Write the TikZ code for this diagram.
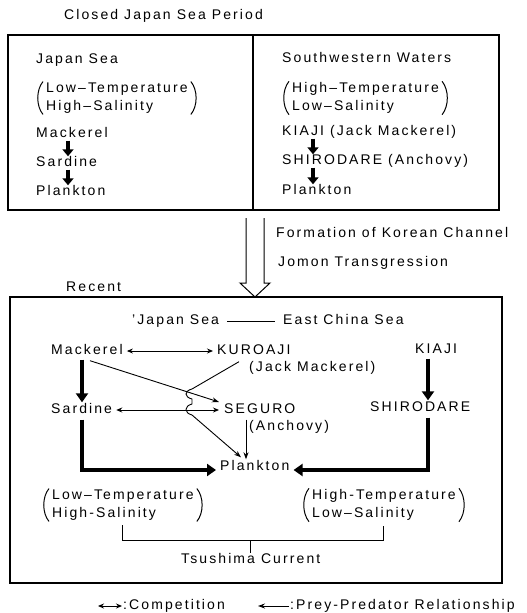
\documentclass[tikz,border=0pt]{standalone}
\usepackage{fontspec}
\setmainfont{Liberation Sans}[LetterSpace=15]
\usetikzlibrary{arrows.meta,calc}
\newcommand\myparens[1]{%
  \draw[paren] ($(#1.north west)+(-3,-1)$) .. controls ($(#1.west)+(-10,-8)$) and ($(#1.west)+(-10,8)$) .. ($(#1.south west)+(-3,1)$);
  \draw[paren] ($(#1.north east)+(3,-1)$) .. controls ($(#1.east)+(10,-8)$) and ($(#1.east)+(10,8)$) .. ($(#1.south east)+(3,1)$);}
\begin{document}
\begin{tikzpicture}[x=1pt,y=-1pt,
  every node/.style={font=\fontsize{14}{18}\selectfont},
  txt/.style={inner sep=0pt, text height=10pt, text depth=3pt, anchor=west},
  two/.style={inner sep=0pt, align=left, anchor=west},
  box/.style={line width=1.3pt},
  paren/.style={line width=1pt},
  bigar/.style={line width=3.5pt, -{Triangle[length=7pt,width=11pt]}},
  fatar/.style={line width=4pt, -{Triangle[length=9pt,width=12pt]}},
  thinar/.style={line width=0.9pt, -{Stealth[length=7pt,width=5pt]}},
  compar/.style={line width=0.9pt, {Stealth[length=6pt,width=5pt]}-{Stealth[length=6pt,width=5pt]}},
  thin/.style={line width=1pt}]
\useasboundingbox (0,0) rectangle (527,613);

% ---------- Closed Japan Sea Period ----------
\node[txt] (title) at (64,16) {Closed Japan Sea Period};
\draw[box] (8,35) rectangle (499,210);
\draw[box] (253,35) -- (253,210);

\node[txt] (js1) at (36,60) {Japan Sea};
\node[two] (lt1) at (46,98) {Low--Temperature\\High--Salinity};
\node[txt] (mk1) at (36,134) {Mackerel};
\node[txt] (sd1) at (36,163) {Sardine};
\node[txt] (pk1) at (36,192) {Plankton};
\myparens{lt1}

\node[txt] (sw) at (282,59) {Southwestern Waters};
\node[two] (ht1) at (292,98) {High--Temperature\\Low--Salinity};
\node[txt] (ki1) at (282,132) {KIAJI (Jack Mackerel)};
\node[txt] (sh1) at (282,161) {SHIRODARE (Anchovy)};
\node[txt] (pk2) at (282,191) {Plankton};
\myparens{ht1}

\draw[bigar] ($(mk1.south west)+(32,0)$) -- ($(sd1.north west)+(32,0)$);
\draw[bigar] ($(sd1.south west)+(32,0)$) -- ($(pk1.north west)+(32,0)$);
\draw[bigar] ($(ki1.south west)+(31,0)$) -- ($(sh1.north west)+(31,0)$);
\draw[bigar] ($(sh1.south west)+(31,0)$) -- ($(pk2.north west)+(31,0)$);

% ---------- transition ----------
\draw[thin] (246,218) -- (246,283) -- (240,283) -- (255,297) -- (270,283) -- (264,283) -- (264,218);
\node[txt] (form) at (276,234) {Formation of Korean Channel};
\node[txt] (jomon) at (278,263) {Jomon Transgression};
\node[txt] (recent) at (66,288) {Recent};

% ---------- Recent ----------
\draw[box] (10,297) rectangle (502,583);
\node[txt] (js2) at (132,321) {'Japan Sea};
\node[txt] (ecs) at (283,321) {East China Sea};
\draw[thin] ($(js2.east)+(8,0)$) -- ($(ecs.west)+(-8,0)$);

\node[txt] (mk2) at (51,351) {Mackerel};
\node[txt] (ku) at (217,351) {KUROAJI};
\node[txt] (jm) at (249,368) {(Jack Mackerel)};
\node[txt] (ki2) at (415,350) {KIAJI};
\node[txt] (sd2) at (51,410) {Sardine};
\node[txt] (sg) at (224,410) {SEGURO};
\node[txt] (an) at (249,427) {(Anchovy)};
\node[txt] (sh2) at (370,408) {SHIRODARE};
\node[txt] (pk3) at (220,467) {Plankton};

\draw[compar] ($(mk2.east)+(4,0)$) -- ($(ku.west)+(-4,0)$);
\draw[compar] ($(sd2.east)+(4,0)$) -- ($(sg.west)+(-5,0)$);

\draw[fatar] ($(mk2.south west)+(31,2)$) -- ($(sd2.north west)+(31,-1)$);
\draw[fatar] ($(ki2.south west)+(13,2)$) -- ($(sh2.north west)+(58,-1)$);
\draw[fatar] ($(sd2.south west)+(31,3)$) |- ($(pk3.west)+(-4,3)$);
\draw[fatar] ($(sh2.south west)+(58,3)$) |- ($(pk3.east)+(4,3)$);

\draw[thinar] ($(mk2.south west)+(39,3)$) -- ($(sg.west)+(-5,-8)$);
\coordinate (h1) at (192,389);
\coordinate (h2) at (192,399);
\coordinate (h3) at (192,404);
\coordinate (h4) at (192,415);
\draw[thinar] ($(ku.south west)+(22,4)$) -- (h1) .. controls +(-8,2) and +(-8,-2) .. (h2) -- (h3) .. controls +(-8,2) and +(-8,-2) .. (h4) -- ($(pk3.north west)+(21,-3)$);
\draw[thinar] ($(sg.south west)+(22,3)$) -- ($(pk3.north west)+(26,-1)$);

\node[two] (lt2) at (52,505) {Low--Temperature\\High-Salinity};
\node[two] (ht2) at (312,505) {High-Temperature\\Low--Salinity};
\myparens{lt2}
\myparens{ht2}

\node[txt] (tsu) at (181,560) {Tsushima Current};
\draw[thin] ($(lt2.south)+(0,5)$) -- (lt2.south |- 0,540) -- (ht2.south |- 0,540) -- ($(ht2.south)+(0,5)$);
\draw[thin] (tsu.north |- 0,540) -- (tsu.north);

% ---------- legend ----------
\coordinate (c1) at (98,606);
\coordinate (c2) at (122,606);
\draw[compar] (c1) -- (c2);
\node[txt] (cl) at (123,606) {:Competition};
\coordinate (p1) at (289,606);
\coordinate (p2) at (258,606);
\draw[thinar] (p1) -- (p2);
\node[txt] (pl) at (290,606) {:Prey-Predator Relationship};
\end{tikzpicture}
\end{document}
